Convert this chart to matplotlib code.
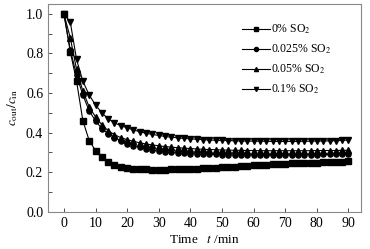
import numpy as np
import matplotlib
matplotlib.use("Agg")
import matplotlib.pyplot as plt
from matplotlib.ticker import MultipleLocator

plt.rcParams['font.family'] = ['Liberation Serif', 'DejaVu Serif']
plt.rcParams['mathtext.fontset'] = 'stix'

# time (min), sampled every 2 min
t = np.arange(0, 92, 2)

so2_0 = [1.00, 0.81, 0.66, 0.46, 0.36, 0.31, 0.275, 0.25, 0.237, 0.228,
         0.222, 0.219, 0.216, 0.215, 0.214, 0.214, 0.214, 0.215, 0.216, 0.217,
         0.218, 0.219, 0.221, 0.222, 0.224, 0.226, 0.228, 0.229, 0.231, 0.233,
         0.235, 0.237, 0.238, 0.240, 0.242, 0.243, 0.245, 0.246, 0.247, 0.248,
         0.249, 0.250, 0.251, 0.252, 0.253, 0.255]
so2_0025 = [1.00, 0.82, 0.69, 0.59, 0.51, 0.46, 0.42, 0.395, 0.375, 0.36,
            0.345, 0.335, 0.326, 0.318, 0.312, 0.307, 0.303, 0.300, 0.298, 0.296,
            0.294, 0.293, 0.292, 0.291, 0.290, 0.289, 0.289, 0.288, 0.288, 0.288,
            0.287, 0.287, 0.287, 0.287, 0.288, 0.288, 0.288, 0.288, 0.289, 0.289,
            0.289, 0.290, 0.290, 0.290, 0.291, 0.291]
so2_005 = [1.00, 0.88, 0.72, 0.61, 0.53, 0.48, 0.44, 0.41, 0.39, 0.375,
           0.365, 0.356, 0.349, 0.343, 0.338, 0.334, 0.330, 0.327, 0.324, 0.322,
           0.320, 0.318, 0.316, 0.315, 0.314, 0.313, 0.312, 0.311, 0.311, 0.310,
           0.310, 0.309, 0.309, 0.309, 0.309, 0.309, 0.309, 0.309, 0.309, 0.309,
           0.310, 0.310, 0.310, 0.310, 0.311, 0.311]
so2_01 = [1.00, 0.96, 0.77, 0.66, 0.59, 0.54, 0.50, 0.47, 0.45, 0.435,
          0.425, 0.414, 0.405, 0.397, 0.391, 0.386, 0.381, 0.377, 0.374, 0.371,
          0.369, 0.367, 0.365, 0.363, 0.362, 0.361, 0.360, 0.359, 0.358, 0.358,
          0.357, 0.357, 0.357, 0.356, 0.356, 0.356, 0.356, 0.356, 0.357, 0.357,
          0.358, 0.358, 0.359, 0.360, 0.361, 0.363]

series = [so2_0, so2_0025, so2_005, so2_01]
labels = ['0% SO$_2$', '0.025% SO$_2$', '0.05% SO$_2$', '0.1% SO$_2$']
markers = ['s', 'o', '^', 'v']

fig = plt.figure(figsize=(3.7, 2.49), dpi=100)
ax = fig.add_axes([0.13, 0.149, 0.846, 0.835])

for y, lab, m in zip(series, labels, markers):
    ax.plot(t, y, color='black', lw=0.8, marker=m, markersize=3.7, label=lab)

ax.set_xlim(-5, 94)
ax.set_ylim(0, 1.05)
ax.xaxis.set_major_locator(MultipleLocator(10))
ax.yaxis.set_major_locator(MultipleLocator(0.2))
ax.yaxis.set_minor_locator(MultipleLocator(0.1))
ax.tick_params(which='both', direction='in', labelsize=10, length=3, width=0.6,
               color='#333333')
ax.yaxis.set_major_formatter(matplotlib.ticker.FormatStrFormatter('%.1f'))
for s in ax.spines.values():
    s.set_color('#888888')
    s.set_linewidth(0.8)

ax.set_xlabel('Time   $t$ /min', fontsize=9.5, labelpad=3)
ax.set_ylabel(r'$c_{\rm out}/c_{\rm in}$', fontsize=9.5, labelpad=4)

ax.legend(loc='upper left', bbox_to_anchor=(0.585, 0.96), frameon=False,
          fontsize=8.5, handlelength=2.4, labelspacing=0.55, handletextpad=0.1,
          markerscale=0.8)

fig.savefig('out.png', dpi=100)
